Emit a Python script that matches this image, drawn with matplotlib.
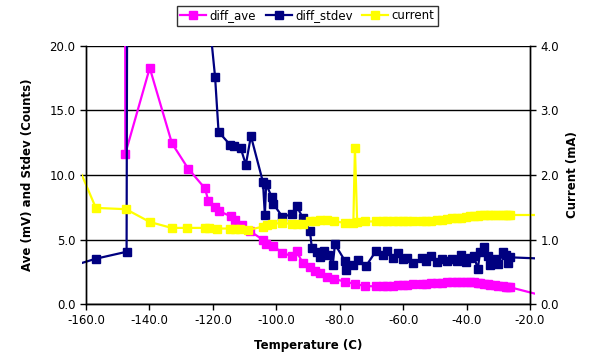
import matplotlib
matplotlib.use('Agg')
import matplotlib.pyplot as plt
from matplotlib.transforms import Bbox, TransformedBbox

# common temperatures in the dense part of the run
t_dense = [-68.5, -66.5, -65.0, -63.3, -61.5, -60.0, -58.7, -57.0, -54.1, -52.8, -51.3,
           -49.4, -47.8, -46.3, -44.7, -43.1, -41.8, -40.2, -38.9, -37.6, -36.5, -35.7,
           -34.5, -33.1, -32.6, -31.0, -30.0, -28.4, -27.5, -26.8, -26.3]

# diff_ave (mV)
t_ave = [-147.8, -147.6, -139.9, -132.9, -127.8, -122.5, -121.4, -119.3, -118.0, -114.4,
         -113.0, -110.9, -108.3, -104.1, -103.4, -100.9, -98.1, -95.1, -93.6, -91.7,
         -89.4, -87.8, -86.2, -84.1, -81.7, -78.3, -75.2, -72.0] + t_dense + [-18.4]
ave = [60.0, 11.65, 18.3, 12.46, 10.5, 8.97, 8.0, 7.5, 7.2, 6.8,
       6.5, 6.1, 5.65, 4.96, 4.62, 4.47, 3.98, 3.7, 4.08, 3.2,
       2.84, 2.58, 2.38, 2.12, 1.94, 1.73, 1.55, 1.40,
       1.36, 1.38, 1.40, 1.42, 1.44, 1.47, 1.50, 1.52, 1.56, 1.58, 1.60,
       1.63, 1.65, 1.68, 1.70, 1.72, 1.73, 1.72, 1.70, 1.67, 1.64, 1.60,
       1.57, 1.52, 1.50, 1.46, 1.42, 1.38, 1.35, 1.32, 1.30,
       0.8]

# diff_stdev (counts)
t_std = [-161.3, -156.9, -147.2, -146.5, -119.3, -118.2, -114.6, -113.4, -111.2, -109.6,
         -108.0, -104.2, -103.6, -103.2, -101.4, -100.9, -98.1, -95.1, -93.6, -91.7,
         -89.4, -88.8, -87.1, -86.2, -84.9, -83.6, -82.2, -81.5, -78.3, -78.0,
         -75.7, -74.1, -71.7] + t_dense + [-18.4]
stdev = [3.18, 3.51, 4.05, 85.0, 17.6, 13.35, 12.35, 12.22, 12.07, 10.8,
         13.02, 9.45, 6.9, 9.3, 8.27, 7.75, 6.77, 6.95, 7.62, 6.7,
         5.68, 4.36, 4.05, 3.67, 4.1, 3.8, 3.02, 4.63, 3.33, 2.64,
         3.02, 3.41, 2.95,
         4.13, 3.8, 4.13, 3.54, 3.93, 3.46, 3.54, 3.2, 3.54, 3.36, 3.72,
         3.28, 3.46, 3.36, 3.46, 3.36, 3.8, 3.28, 3.54, 3.72, 2.69, 4.05,
         4.39, 3.72, 3.02, 3.46, 3.08, 4.05, 3.8, 3.15, 3.62,
         3.54]

# current (mA)
t_cur = [-161.3, -156.9, -147.4, -139.8, -133.0, -128.1, -122.5, -121.1, -118.8, -114.6,
         -113.0, -111.4, -108.8, -104.1, -103.0, -101.4, -98.1, -95.1, -93.6, -91.7,
         -89.4, -87.8, -86.2, -84.1, -81.7, -78.3, -75.7, -75.2, -74.5, -72.0] + t_dense + [-18.4]
current = [2.0, 1.49, 1.47, 1.27, 1.18, 1.18, 1.18, 1.18, 1.17, 1.17,
           1.16, 1.16, 1.15, 1.20, 1.22, 1.24, 1.26, 1.24, 1.24, 1.24,
           1.28, 1.29, 1.30, 1.30, 1.28, 1.26, 1.26, 2.42, 1.27, 1.28,
           1.28, 1.28, 1.28, 1.28, 1.28, 1.28, 1.28, 1.28, 1.28, 1.29, 1.29,
           1.30, 1.31, 1.32, 1.33, 1.34, 1.34, 1.35, 1.36, 1.37, 1.37, 1.38,
           1.38, 1.38, 1.38, 1.38, 1.38, 1.38, 1.38, 1.38, 1.38,
           1.38]

fig = plt.figure(figsize=(5.91, 3.63), dpi=100)
ax = fig.add_axes([0.1455, 0.1625, 0.7513, 0.7108])
ax2 = ax.twinx()

# lines run a few pixels past the axes at both ends, like the original
clip = TransformedBbox(Bbox.from_extents(-0.009, -0.01, 1.012, 1.0), ax.transAxes)

def draw(axis, t, v, color, label):
    marks = [i for i in range(len(t)) if -160 <= t[i] <= -20]
    line, = axis.plot(t, v, color=color, lw=1.6, marker='s', markersize=5.2,
                      markevery=marks, label=label)
    line.set_clip_box(clip)
    return line

l1 = draw(ax, t_ave, ave, '#ff00ff', 'diff_ave')
l2 = draw(ax, t_std, stdev, '#000080', 'diff_stdev')
l3 = draw(ax2, t_cur, current, '#ffff00', 'current')

ax.set_xlim(-160, -20)
ax.set_ylim(0, 20)
ax2.set_ylim(0, 4)
ax.set_xticks(range(-160, -19, 20))
ax.set_yticks([0, 5, 10, 15, 20])
ax2.set_yticks([0, 1, 2, 3, 4])
ax.xaxis.set_major_formatter(lambda x, p: f'{x:.1f}')
ax.yaxis.set_major_formatter(lambda x, p: f'{x:.1f}')
ax2.yaxis.set_major_formatter(lambda x, p: f'{x:.1f}')

ax.grid(axis='y', color='black', lw=1)
ax.set_axisbelow(True)
for a in (ax, ax2):
    a.spines['top'].set_visible(False)
    for s in a.spines.values():
        s.set_linewidth(1)
    a.tick_params(labelsize=8.5, length=4, width=1, colors='black')

ax.set_xlabel('Temperature (C)', fontsize=8.5, fontweight='bold', labelpad=8)
ax.set_ylabel('Ave (mV) and Stdev (Counts)', fontsize=8.5, fontweight='bold', labelpad=11)
ax2.set_ylabel('Current (mA)', fontsize=8.5, fontweight='bold', labelpad=5)

leg = fig.legend(handles=[l1, l2, l3], loc='center', bbox_to_anchor=(0.52, 0.957),
                 ncol=3, fontsize=8.5, frameon=True, fancybox=False, edgecolor='black',
                 handlelength=2.2, handletextpad=0.3, columnspacing=0.8,
                 borderpad=0.3)
leg.get_frame().set_linewidth(1)

fig.savefig('out.png', dpi=100)
